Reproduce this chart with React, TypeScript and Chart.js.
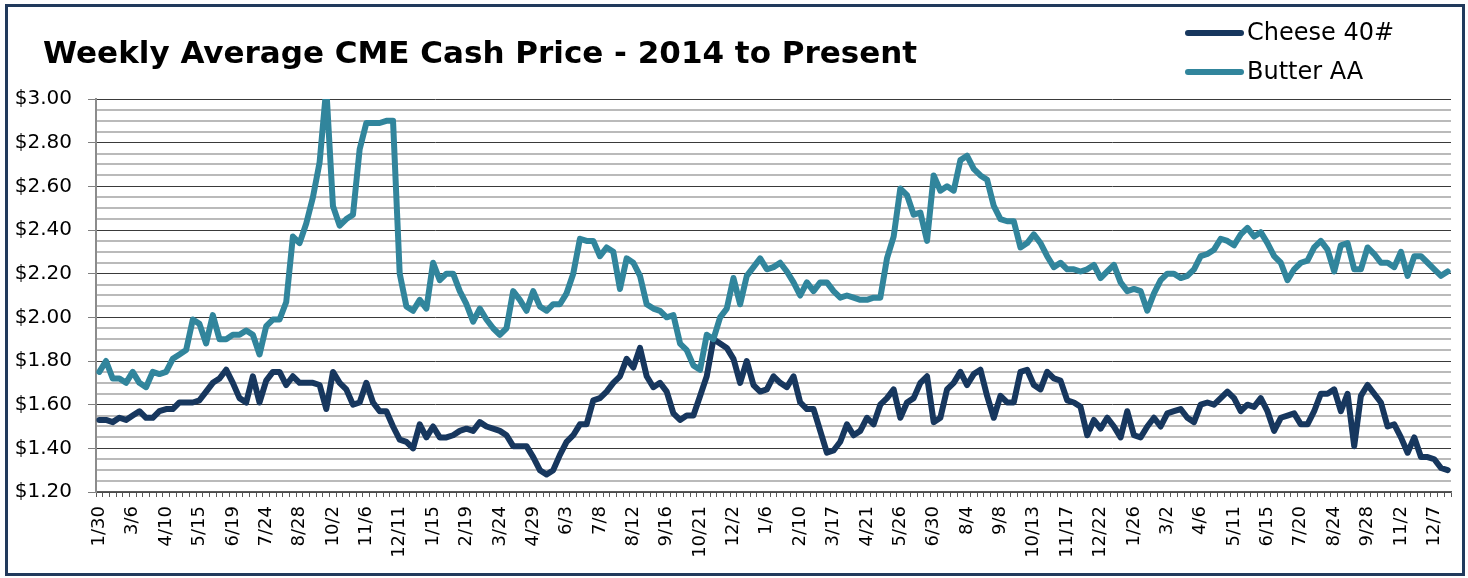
import React, { useEffect, useRef } from "react";
import { Chart, registerables } from "chart.js";

Chart.register(...registerables);

const TITLE = "Weekly Average CME Cash Price - 2014 to Present";
const SERIES_NAMES = ["Cheese 40#", "Butter AA"];
const SERIES_COLORS = ["#17375e", "#31859c"];

const TICK_DATES = [
  "1/30", "3/6", "4/10", "5/15", "6/19", "7/24", "8/28", "10/2", "11/6", "12/11",
  "1/15", "2/19", "3/24", "4/29", "6/3", "7/8", "8/12", "9/16", "10/21", "12/2",
  "1/6", "2/10", "3/17", "4/21", "5/26", "6/30", "8/4", "9/8", "10/13", "11/17",
  "12/22", "1/26", "3/2", "4/6", "5/11", "6/15", "7/20", "8/24", "9/28", "11/2", "12/7",
];
const WEEKS_PER_TICK = 5;

const CHEESE = [
  1.53, 1.53, 1.52, 1.54, 1.53, 1.55, 1.57, 1.54, 1.54, 1.57, 1.58, 1.58, 1.61, 1.61, 1.61, 1.62, 1.66, 1.70, 1.72, 1.76, 1.70, 1.63, 1.61, 1.73, 1.61, 1.71,
  1.75, 1.75, 1.69, 1.73, 1.70, 1.70, 1.70, 1.69, 1.58, 1.75, 1.70, 1.67, 1.60, 1.61, 1.70, 1.61, 1.57, 1.57, 1.50, 1.44, 1.43, 1.40, 1.51, 1.45, 1.50, 1.45,
  1.45, 1.46, 1.48, 1.49, 1.48, 1.52, 1.50, 1.49, 1.48, 1.46, 1.41, 1.41, 1.41, 1.36, 1.30, 1.28, 1.30, 1.37, 1.43, 1.46, 1.51, 1.51, 1.62, 1.63, 1.66,
  1.70, 1.73, 1.81, 1.77, 1.86, 1.73, 1.68, 1.70, 1.66, 1.56, 1.53, 1.55, 1.55, 1.64, 1.73, 1.90, 1.88, 1.86, 1.81, 1.70, 1.80, 1.69, 1.66, 1.67, 1.73, 1.70,
  1.68, 1.73, 1.61, 1.58, 1.58, 1.48, 1.38, 1.39, 1.43, 1.51, 1.46, 1.48, 1.54, 1.51, 1.60, 1.63, 1.67, 1.54, 1.61, 1.63, 1.70, 1.73, 1.52, 1.54, 1.67,
  1.70, 1.75, 1.69, 1.74, 1.76, 1.64, 1.54, 1.64, 1.61, 1.61, 1.75, 1.76, 1.69, 1.67, 1.75, 1.72, 1.71, 1.62, 1.61, 1.59, 1.46, 1.53, 1.49, 1.54, 1.50,
  1.45, 1.57, 1.46, 1.45, 1.50, 1.54, 1.50, 1.56, 1.57, 1.58, 1.54, 1.52, 1.60, 1.61, 1.60, 1.63, 1.66, 1.63, 1.57, 1.60, 1.59, 1.63, 1.57, 1.48, 1.54, 1.55,
  1.56, 1.51, 1.51, 1.57, 1.65, 1.65, 1.67, 1.57, 1.65, 1.41, 1.64, 1.69, 1.65, 1.61, 1.50, 1.51, 1.45, 1.38, 1.45, 1.36, 1.36, 1.35, 1.31, 1.30,
];

const BUTTER = [
  1.75, 1.80, 1.72, 1.72, 1.70, 1.75, 1.70, 1.68, 1.75, 1.74, 1.75, 1.81, 1.83, 1.85, 1.99, 1.97, 1.88, 2.01, 1.90, 1.90, 1.92, 1.92, 1.94, 1.92, 1.83, 1.96,
  1.99, 1.99, 2.07, 2.37, 2.34, 2.43, 2.55, 2.71, 3.05, 2.51, 2.42, 2.45, 2.47, 2.77, 2.89, 2.89, 2.89, 2.90, 2.90, 2.20, 2.05, 2.03, 2.08, 2.04, 2.25, 2.17,
  2.20, 2.20, 2.12, 2.06, 1.98, 2.04, 1.99, 1.95, 1.92, 1.95, 2.12, 2.08, 2.03, 2.12, 2.05, 2.03, 2.06, 2.06, 2.11, 2.20, 2.36, 2.35, 2.35, 2.28, 2.32,
  2.30, 2.13, 2.27, 2.25, 2.19, 2.06, 2.04, 2.03, 2.00, 2.01, 1.88, 1.85, 1.78, 1.76, 1.92, 1.90, 2.00, 2.04, 2.18, 2.06, 2.19, 2.23, 2.27, 2.22, 2.23, 2.25,
  2.21, 2.16, 2.10, 2.16, 2.12, 2.16, 2.16, 2.12, 2.09, 2.10, 2.09, 2.08, 2.08, 2.09, 2.09, 2.27, 2.37, 2.59, 2.56, 2.47, 2.48, 2.35, 2.65, 2.58, 2.60,
  2.58, 2.72, 2.74, 2.68, 2.65, 2.63, 2.51, 2.45, 2.44, 2.44, 2.32, 2.34, 2.38, 2.34, 2.28, 2.23, 2.25, 2.22, 2.22, 2.21, 2.22, 2.24, 2.18, 2.21, 2.24,
  2.16, 2.12, 2.13, 2.12, 2.03, 2.11, 2.17, 2.20, 2.20, 2.18, 2.19, 2.22, 2.28, 2.29, 2.31, 2.36, 2.35, 2.33, 2.38, 2.41, 2.37, 2.39, 2.34, 2.28, 2.25, 2.17,
  2.22, 2.25, 2.26, 2.32, 2.35, 2.31, 2.21, 2.33, 2.34, 2.22, 2.22, 2.32, 2.29, 2.25, 2.25, 2.23, 2.30, 2.19, 2.28, 2.28, 2.25, 2.22, 2.19, 2.21,
];

const Y_MIN = 1.2;
const Y_MAX = 3.0;
const Y_MINOR_STEP = 0.05;
const Y_MAJOR_STEP = 0.2;

const CATEGORIES = CHEESE.map((_, i) =>
  i % WEEKS_PER_TICK === 0 ? TICK_DATES[i / WEEKS_PER_TICK] ?? "" : ""
);

const isMajor = (v: number) => {
  const r = v / Y_MAJOR_STEP;
  return Math.abs(r - Math.round(r)) < 1e-6;
};

const FONT = '"DejaVu Sans", "Liberation Sans", sans-serif';

const headerPlugin = {
  id: "headerPlugin",
  beforeDraw(chart: any) {
    const { ctx, width, height } = chart;
    ctx.save();
    ctx.fillStyle = "#ffffff";
    ctx.fillRect(0, 0, width, height);
    ctx.restore();
  },
  afterDraw(chart: any) {
    const { ctx } = chart;
    ctx.save();
    // frame
    ctx.strokeStyle = "#213a5c";
    ctx.lineWidth = 3;
    ctx.strokeRect(6.5, 5.5, 1457, 569);
    // title
    ctx.fillStyle = "#000000";
    ctx.font = `bold 31px ${FONT}`;
    ctx.textAlign = "left";
    ctx.textBaseline = "alphabetic";
    ctx.fillText(TITLE, 43, 63);
    // legend
    const rows = [33, 72];
    chart.data.datasets.forEach((ds: any, i: number) => {
      const y = rows[i];
      ctx.strokeStyle = ds.borderColor;
      ctx.lineWidth = 6;
      ctx.lineCap = "round";
      ctx.beginPath();
      ctx.moveTo(1188, y);
      ctx.lineTo(1241, y);
      ctx.stroke();
      ctx.fillStyle = "#000000";
      ctx.font = `24px ${FONT}`;
      ctx.textBaseline = "middle";
      ctx.fillText(ds.label, 1247, y + 1);
    });
    ctx.restore();
  },
};

export default function App() {
  const canvasRef = useRef<HTMLCanvasElement | null>(null);

  useEffect(() => {
    const canvas = canvasRef.current;
    if (!canvas) return;
    const chart = new Chart(canvas, {
      type: "line",
      data: {
        labels: CATEGORIES,
        datasets: [
          {
            label: SERIES_NAMES[0],
            data: CHEESE,
            borderColor: SERIES_COLORS[0],
            backgroundColor: SERIES_COLORS[0],
            borderWidth: 6,
            pointRadius: 0,
            tension: 0,
            borderJoinStyle: "round",
            borderCapStyle: "round",
            order: 1,
            clip: 0,
          },
          {
            label: SERIES_NAMES[1],
            data: BUTTER,
            borderColor: SERIES_COLORS[1],
            backgroundColor: SERIES_COLORS[1],
            borderWidth: 6,
            pointRadius: 0,
            tension: 0,
            borderJoinStyle: "round",
            borderCapStyle: "round",
            order: 0,
            clip: 0,
          },
        ],
      },
      options: {
        responsive: false,
        animation: false,
        devicePixelRatio: 1,
        layout: { padding: { left: 8, right: 17, top: 99, bottom: 0 } },
        plugins: {
          legend: { display: false },
          title: { display: false },
          tooltip: { enabled: false },
        },
        scales: {
          x: {
            type: "category",
            offset: true,
            afterFit: (scale: any) => {
              scale.height = 86;
              scale.paddingLeft = 0;
              scale.paddingRight = 0;
            },
            border: { display: true, color: "#595959", width: 1.5 },
            grid: {
              offset: true,
              drawOnChartArea: false,
              drawTicks: true,
              tickLength: 5,
              color: "#595959",
              lineWidth: 1,
            },
            ticks: {
              autoSkip: false,
              maxRotation: 90,
              minRotation: 90,
              padding: 9,
              color: "#000000",
              font: { family: FONT, size: 18 },
            },
          },
          y: {
            type: "linear",
            min: Y_MIN,
            max: Y_MAX,
            afterFit: (scale: any) => {
              scale.width = 88;
              scale.paddingTop = 0;
              scale.paddingBottom = 0;
            },
            border: { display: true, color: "#8c8c8c", width: 2 },
            grid: {
              drawTicks: true,
              tickLength: 8,
              color: (c: any) => (isMajor(c.tick.value) ? "#3a3a3a" : "#bababa"),
              lineWidth: (c: any) => (isMajor(c.tick.value) ? 1 : 2),
              tickColor: (c: any) => (isMajor(c.tick.value) ? "#7f7f7f" : "rgba(0,0,0,0)"),
            },
            ticks: {
              stepSize: Y_MINOR_STEP,
              autoSkip: false,
              padding: 16,
              color: "#000000",
              font: { family: FONT, size: 20 },
              callback: (v: any) => (isMajor(Number(v)) ? `$${Number(v).toFixed(2)}` : ""),
            },
          },
        },
      },
      plugins: [headerPlugin],
    } as any);
    return () => chart.destroy();
  }, []);

  return (
    <div style={{ position: "absolute", left: 0, top: 0, width: 1468, height: 578, background: "#fff" }}>
      <canvas ref={canvasRef} width={1468} height={578} style={{ display: "block", width: 1468, height: 578 }} />
    </div>
  );
}
